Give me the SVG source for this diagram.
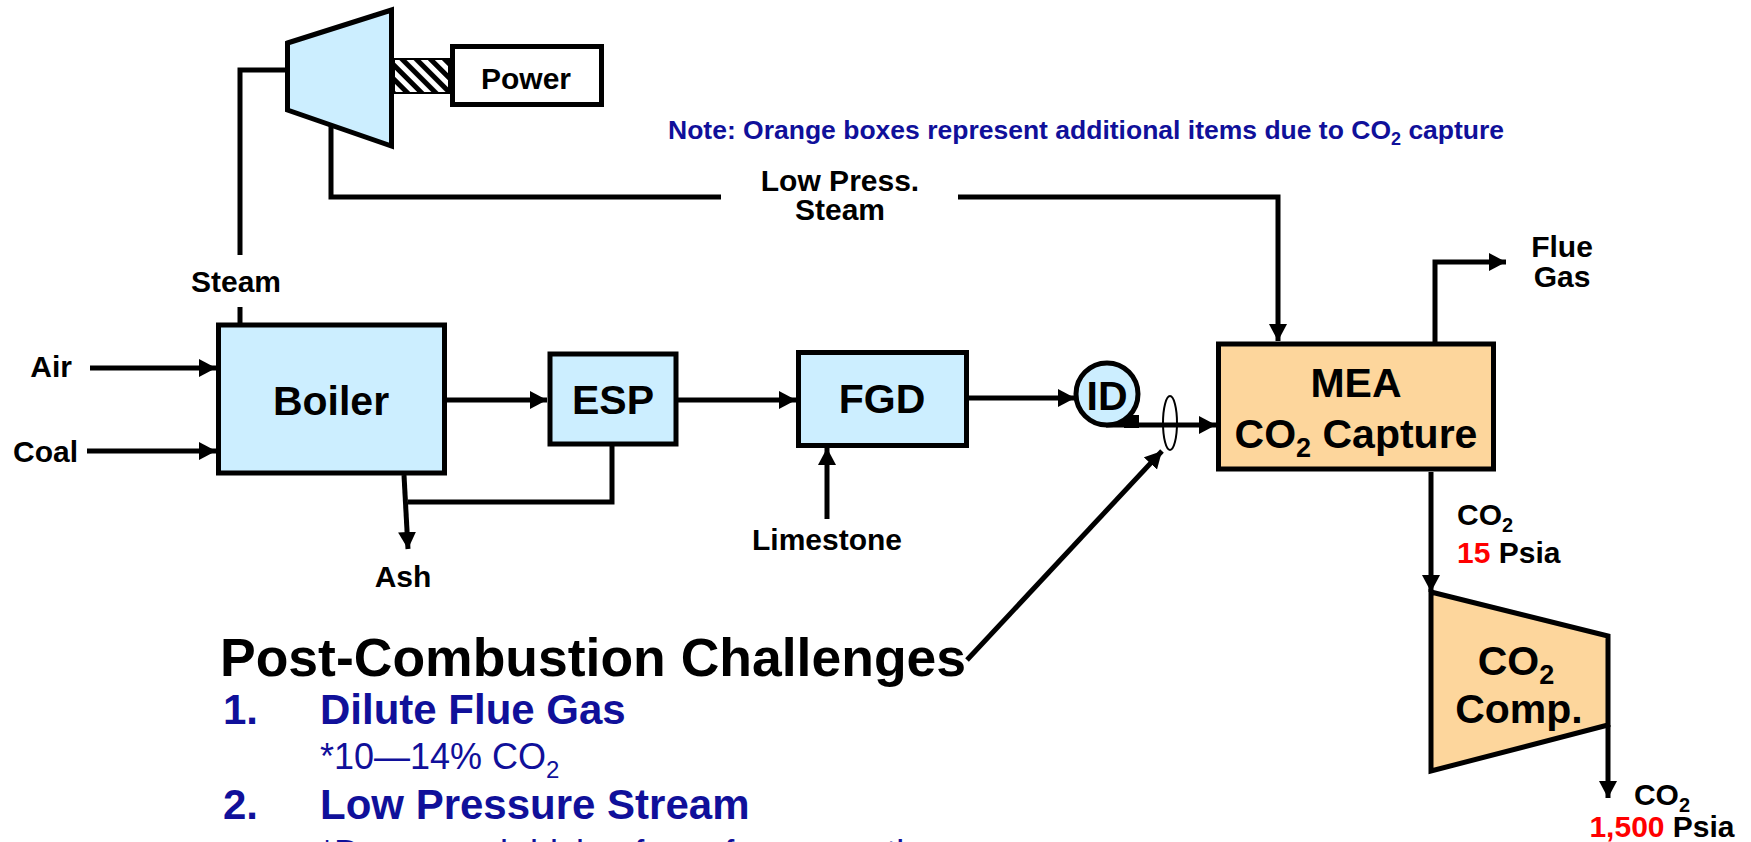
<svg xmlns="http://www.w3.org/2000/svg" width="1751" height="842" viewBox="0 0 1751 842">
<style>
.box{stroke:#000;stroke-width:5;}
.blue{fill:#cceeff;}
.orange{fill:#fdd69c;}
.ln{fill:none;stroke:#000;stroke-width:5;}
.lbl{font-family:"Liberation Sans",Arial,sans-serif;font-weight:bold;font-size:30px;fill:#000;}
.big{font-family:"Liberation Sans",Arial,sans-serif;font-weight:bold;font-size:41px;fill:#000;}
.navy{font-family:"Liberation Sans",Arial,sans-serif;fill:#10109a;}
</style>
<defs>
<marker id="ah" markerUnits="userSpaceOnUse" markerWidth="20" markerHeight="20" refX="17" refY="9" orient="auto">
<path d="M0,0 L17,9 L0,18 Z" fill="#000"/>
</marker>
<pattern id="hatch" patternUnits="userSpaceOnUse" width="10" height="10" patternTransform="rotate(-45)">
<rect width="10" height="10" fill="#fff"/>
<rect width="5" height="10" fill="#000"/>
</pattern>
</defs>
<rect width="1751" height="842" fill="#fff"/>

<g id="connectors">
<path class="ln" d="M240,255 L240,70 L287,70"/>
<path class="ln" d="M240,307 L240,323"/>
<path class="ln" d="M331,125 L331,197 L721,197"/>
<path class="ln" d="M958,197 L1278,197 L1278,341" marker-end="url(#ah)"/>
<path class="ln" d="M90,368 L216,368" marker-end="url(#ah)"/>
<path class="ln" d="M87,451 L216,451" marker-end="url(#ah)"/>
<path class="ln" d="M446,400 L547,400" marker-end="url(#ah)"/>
<path class="ln" d="M678,400 L796,400" marker-end="url(#ah)"/>
<path class="ln" d="M968,398 L1075,398" marker-end="url(#ah)"/>
<path class="ln" d="M1106,425 L1216,425" marker-end="url(#ah)"/>
<path d="M1124,415 L1139,415 L1139,428 L1124,428 Z" fill="#000"/>
<ellipse cx="1170" cy="423" rx="7" ry="27" fill="none" stroke="#000" stroke-width="2"/>
<path class="ln" d="M967,660 L1162,451" marker-end="url(#ah)"/>
<path class="ln" d="M1435,342 L1435,262 L1506,262" marker-end="url(#ah)"/>
<path class="ln" d="M404,475 L408,549" marker-end="url(#ah)"/>
<path class="ln" d="M612,446 L612,502 L408,502"/>
<path class="ln" d="M827,519 L827,448" marker-end="url(#ah)"/>
<path class="ln" d="M1431,472 L1431,592" marker-end="url(#ah)"/>
<path class="ln" d="M1608,725 L1608,798" marker-end="url(#ah)"/>
</g>

<g id="turbine">
<polygon class="box blue" points="287.5,43 391.5,10 391.5,146 287.5,110"/>
</g>
<g id="shaft">
<rect x="394" y="59" width="55" height="34" fill="url(#hatch)" stroke="#000" stroke-width="2"/>
</g>
<g id="power">
<rect class="box" x="452.5" y="46.5" width="149" height="58" fill="#fff"/>
<text class="lbl" x="526" y="89" text-anchor="middle">Power</text>
</g>

<g id="boiler">
<rect class="box blue" x="218.5" y="325" width="226" height="148"/>
<text class="big" x="331" y="415" text-anchor="middle">Boiler</text>
</g>
<g id="esp">
<rect class="box blue" x="550" y="354" width="126" height="90"/>
<text class="big" x="613" y="414" text-anchor="middle">ESP</text>
</g>
<g id="fgd">
<rect class="box blue" x="798.5" y="352.5" width="168" height="93"/>
<text class="big" x="882" y="413" text-anchor="middle">FGD</text>
</g>
<g id="id-fan">
<circle class="box blue" cx="1107" cy="394" r="31"/>
<text class="big" x="1107" y="410" text-anchor="middle">ID</text>
</g>
<g id="mea">
<rect class="box orange" x="1218.5" y="344" width="275" height="125"/>
<text class="big" x="1356" y="397" text-anchor="middle">MEA</text>
<text class="big" x="1356" y="448" text-anchor="middle">CO<tspan font-size="27" dy="9">2</tspan><tspan dy="-9"> Capture</tspan></text>
</g>
<g id="compressor">
<polygon class="box orange" points="1431,592 1608,636 1608,725 1431,771"/>
<text class="big" x="1516" y="675" text-anchor="middle">CO<tspan font-size="27" dy="9">2</tspan></text>
<text class="big" x="1519" y="723" text-anchor="middle">Comp.</text>
</g>

<g id="labels">
<text class="lbl" x="236" y="292" text-anchor="middle">Steam</text>
<text class="lbl" x="72" y="377" text-anchor="end">Air</text>
<text class="lbl" x="78" y="462" text-anchor="end">Coal</text>
<text class="lbl" x="403" y="587" text-anchor="middle">Ash</text>
<text class="lbl" x="827" y="550" text-anchor="middle">Limestone</text>
<text class="lbl" x="840" y="191" text-anchor="middle">Low Press.</text>
<text class="lbl" x="840" y="220" text-anchor="middle">Steam</text>
<text class="lbl" x="1562" y="257" text-anchor="middle">Flue</text>
<text class="lbl" x="1562" y="287" text-anchor="middle">Gas</text>
<text class="lbl" x="1457" y="525">CO<tspan font-size="20" dy="7">2</tspan></text>
<text class="lbl" x="1457" y="563"><tspan fill="#ff0000">15</tspan> Psia</text>
<text class="lbl" x="1662" y="805" text-anchor="middle">CO<tspan font-size="20" dy="7">2</tspan></text>
<text class="lbl" x="1662" y="837" text-anchor="middle"><tspan fill="#ff0000">1,500</tspan> Psia</text>
<text class="navy" x="668" y="139" font-size="26.5" font-weight="bold">Note: Orange boxes represent additional items due to CO<tspan font-size="18" dy="6">2</tspan><tspan dy="-6"> capture</tspan></text>
</g>

<g id="challenges">
<text x="220" y="676" font-family="Liberation Sans, Arial, sans-serif" font-weight="bold" font-size="53.5" fill="#000">Post-Combustion Challenges</text>
<text class="navy" x="223" y="724" font-size="42" font-weight="bold">1.</text>
<text class="navy" x="320" y="724" font-size="42" font-weight="bold">Dilute Flue Gas</text>
<text class="navy" x="320" y="769" font-size="36">*10—14% CO<tspan font-size="24" dy="9">2</tspan></text>
<text class="navy" x="223" y="819" font-size="42" font-weight="bold">2.</text>
<text class="navy" x="320" y="819" font-size="42" font-weight="bold">Low Pressure Stream</text>
<text class="navy" x="320" y="866" font-size="36">*Decreased driving force for separation</text>
</g>
</svg>
